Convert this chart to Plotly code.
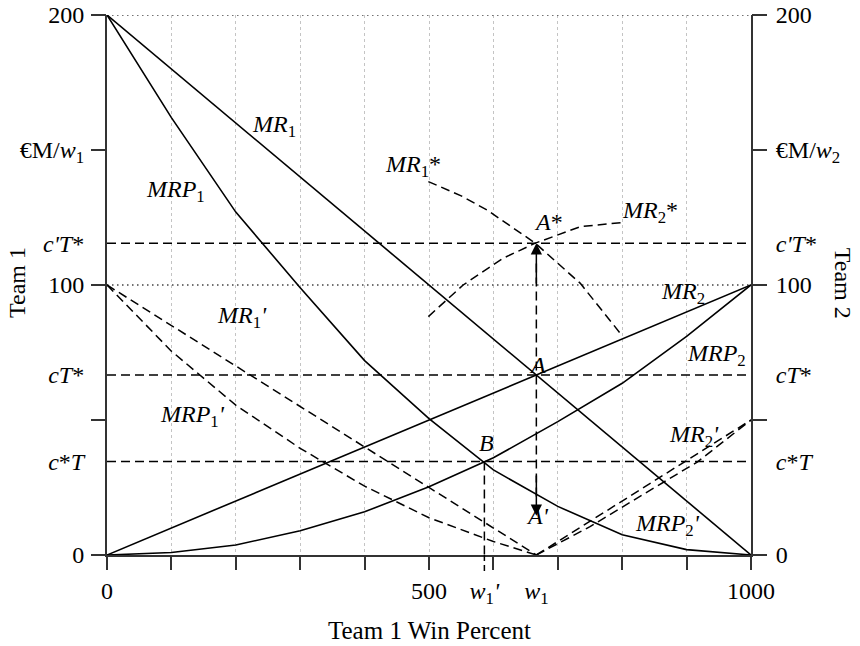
import plotly.graph_objects as go

# ---------------- data ----------------
X_FULL = [0, 1000]
X100 = [0, 100, 200, 300, 400, 500, 600, 700, 800, 900, 1000]

MR1 = [200, 0]
MR2 = [0, 100]
MRP1 = [200, 162, 127, 99, 72, 50.5, 31.5, 18, 7.5, 2, 0]
MRP2 = [0, 0.9, 3.7, 9, 16, 25.3, 36, 49.4, 63.6, 81, 100]

W1 = 666.7
W1P = 586

MR1P_X = [0, W1]
MR1P = [100, 0]
MRP1P_X = [0, 100, 200, 300, 400, 500, 600, W1]
MRP1P = [100, 75.5, 55.5, 39.5, 25.5, 13.8, 5, 0]

MR2P_X = [W1, 1000]
MR2P = [0, 50]
MRP2P_X = [W1, 750, 833, 917, 1000]
MRP2P = [0, 10.5, 22.5, 34.5, 50]

MR1S_X = [499, 550, 590, 665, 735, 797]
MR1S = [138.3, 133, 127.8, 115.5, 100.6, 82.1]
MR2S_X = [499, 553, 615, 665, 735, 799]
MR2S = [88.3, 100, 109.9, 115.5, 121.6, 123.1]

C_PRIME_T_STAR = 115.5   # c'T*
C_T_STAR = 66.7          # cT*
C_STAR_T = 34.6          # c*T
DOTTED_LEVELS = [100, 200]

X_LABEL_VALS = [0, 500, W1P, W1, 1000]
X_LABEL_TEXT = ["0", "500", "<i>w</i><sub>1</sub><i>'</i>", "<i>w</i><sub>1</sub>", "1000"]
Y_TICK_MARKS = [0, 50, 100, 150, 200]
Y_LABEL_VALS = [0, C_STAR_T, C_T_STAR, 100, C_PRIME_T_STAR, 150, 200]
Y_LEFT_TEXT = ["0", "<i>c</i>*<i>T</i>", "<i>cT</i>*", "100", "<i>c'T</i>*",
               "€M/<i>w</i><sub>1</sub>", "200"]
Y_RIGHT_TEXT = ["0", "<i>c</i>*<i>T</i>", "<i>cT</i>*", "100", "<i>c'T</i>*",
                "€M/<i>w</i><sub>2</sub>", "200"]

CURVE_LABELS = [
    (259, 159, "<i>MR</i><sub>1</sub>"),
    (106, 135, "<i>MRP</i><sub>1</sub>"),
    (475, 144, "<i>MR</i><sub>1</sub>*"),
    (686, 123.5, "<i>A</i>*"),
    (843, 127, "<i>MR</i><sub>2</sub>*"),
    (894, 97, "<i>MR</i><sub>2</sub>"),
    (946, 74, "<i>MRP</i><sub>2</sub>"),
    (668, 70.5, "<i>A</i>"),
    (210, 88, "<i>MR</i><sub>1</sub><i>'</i>"),
    (132, 51.5, "<i>MRP</i><sub>1</sub><i>'</i>"),
    (590, 41.5, "<i>B</i>"),
    (911, 44, "<i>MR</i><sub>2</sub><i>'</i>"),
    (668, 14.5, "<i>A'</i>"),
    (870, 11, "<i>MRP</i><sub>2</sub><i>'</i>"),
]

# ---------------- styling ----------------
FONT = "Liberation Serif, Times New Roman, serif"
FS = 24
SOLID = dict(color="black", width=1.6)
DASH = dict(color="black", width=1.5, dash="9px,5px")
DOT = dict(color="#444", width=1.5, dash="1.5px,3.5px")

fig = go.Figure()

def line(x, y, style):
    fig.add_trace(go.Scatter(x=x, y=y, mode="lines", line=style,
                             showlegend=False, hoverinfo="skip"))

for lv in DOTTED_LEVELS:
    line(X_FULL, [lv, lv], DOT)
for lv in [C_PRIME_T_STAR, C_T_STAR, C_STAR_T]:
    line(X_FULL, [lv, lv], DASH)

line(X_FULL, MR1, SOLID)
line(X_FULL, MR2, SOLID)
line(X100, MRP1, SOLID)
line(X100, MRP2, SOLID)
line(MR1P_X, MR1P, DASH)
line(MRP1P_X, MRP1P, DASH)
line(MR2P_X, MR2P, DASH)
line(MRP2P_X, MRP2P, DASH)
line(MR1S_X, MR1S, DASH)
line(MR2S_X, MR2S, DASH)

# vertical guides
line([W1, W1], [108, 20], DASH)
line([W1P, W1P], [C_STAR_T, 0], DASH)

# dummy traces for overlay axes
fig.add_trace(go.Scatter(x=[None], y=[None], xaxis="x2", yaxis="y3", showlegend=False))
fig.add_trace(go.Scatter(x=[None], y=[None], xaxis="x2", yaxis="y4", showlegend=False))
fig.add_trace(go.Scatter(x=[None], y=[None], xaxis="x", yaxis="y2", showlegend=False))

# w1' dashed extension below axis
fig.add_shape(type="line", xref="x", yref="paper", x0=W1P, x1=W1P, y0=0, y1=-0.03,
              line=dict(color="black", width=1.5, dash="6px,4px"))

ann = []
for x, y, t in CURVE_LABELS:
    ann.append(dict(x=x, y=y, xref="x", yref="y", text=t, showarrow=False,
                    xanchor="center", yanchor="middle",
                    font=dict(family=FONT, size=FS, color="black")))
# arrowheads
ann.append(dict(x=W1, y=C_PRIME_T_STAR, ax=W1, ay=100, xref="x", yref="y",
                axref="x", ayref="y", text="", showarrow=True, arrowhead=2,
                arrowsize=1.5, arrowwidth=1.5, arrowcolor="black"))
ann.append(dict(x=W1, y=14.5, ax=W1, ay=30, xref="x", yref="y",
                axref="x", ayref="y", text="", showarrow=True, arrowhead=2,
                arrowsize=1.5, arrowwidth=1.5, arrowcolor="black"))
# axis titles
ann.append(dict(x=0.5, y=-0.139, xref="paper", yref="paper", text="Team 1 Win Percent",
                xanchor="center", yanchor="middle",
                showarrow=False, font=dict(family=FONT, size=25, color="black")))
ann.append(dict(x=-0.1395, y=0.504, xref="paper", yref="paper", text="Team 1",
                xanchor="center", yanchor="middle",
                textangle=-90, showarrow=False, font=dict(family=FONT, size=24, color="black")))
ann.append(dict(x=1.1429, y=0.504, xref="paper", yref="paper", text="Team 2",
                xanchor="center", yanchor="middle",
                textangle=90, showarrow=False, font=dict(family=FONT, size=24, color="black")))

tickfont = dict(family=FONT, size=FS, color="black")
fig.update_layout(
    width=852, height=638,
    margin=dict(l=99, r=109, t=7, b=91, autoexpand=False),
    paper_bgcolor="white", plot_bgcolor="white",
    annotations=ann,
    xaxis=dict(range=[0, 1000], showline=True, linecolor="#333", linewidth=2,
               ticks="outside", ticklen=13, tickcolor="rgba(0,0,0,0)",
               tickmode="array", tickvals=X_LABEL_VALS, ticktext=X_LABEL_TEXT,
               tickfont=tickfont, showgrid=False, zeroline=False, anchor="y",
               automargin=False, ticklabeloverflow="allow"),
    xaxis2=dict(range=[0, 1000], overlaying="x", side="bottom", anchor="y",
                ticks="outside", ticklen=14, tickwidth=1.5, tickcolor="#333",
                tickmode="array", tickvals=X100, showticklabels=False,
                showgrid=True, gridcolor="#c4c4c4", griddash="dot", gridwidth=1,
                showline=False, zeroline=False, automargin=False),
    yaxis=dict(range=[0, 200], side="left", anchor="x", showline=True, linecolor="#333",
               linewidth=2, ticks="outside", ticklen=16, tickcolor="rgba(0,0,0,0)",
               tickmode="array", tickvals=Y_LABEL_VALS, ticktext=Y_LEFT_TEXT,
               tickfont=tickfont, showgrid=False, zeroline=False, automargin=False,
               ticklabeloverflow="allow"),
    yaxis2=dict(range=[0, 200], side="right", overlaying="y", anchor="x", showline=True,
                linecolor="#333", linewidth=2, ticks="outside", ticklen=18,
                tickcolor="rgba(0,0,0,0)", tickmode="array", tickvals=Y_LABEL_VALS,
                ticktext=Y_RIGHT_TEXT, tickfont=tickfont, showgrid=False, zeroline=False,
                automargin=False, ticklabeloverflow="allow"),
    yaxis3=dict(range=[0, 200], side="left", overlaying="y", anchor="x",
                ticks="outside", ticklen=15, tickwidth=1.5, tickcolor="#333",
                tickmode="array", tickvals=Y_TICK_MARKS, showticklabels=False,
                showgrid=False, showline=False, zeroline=False, automargin=False),
    yaxis4=dict(range=[0, 200], side="right", overlaying="y", anchor="x",
                ticks="outside", ticklen=15, tickwidth=1.5, tickcolor="#333",
                tickmode="array", tickvals=Y_TICK_MARKS, showticklabels=False,
                showgrid=False, showline=False, zeroline=False, automargin=False),
)

fig.write_html("out.html")
